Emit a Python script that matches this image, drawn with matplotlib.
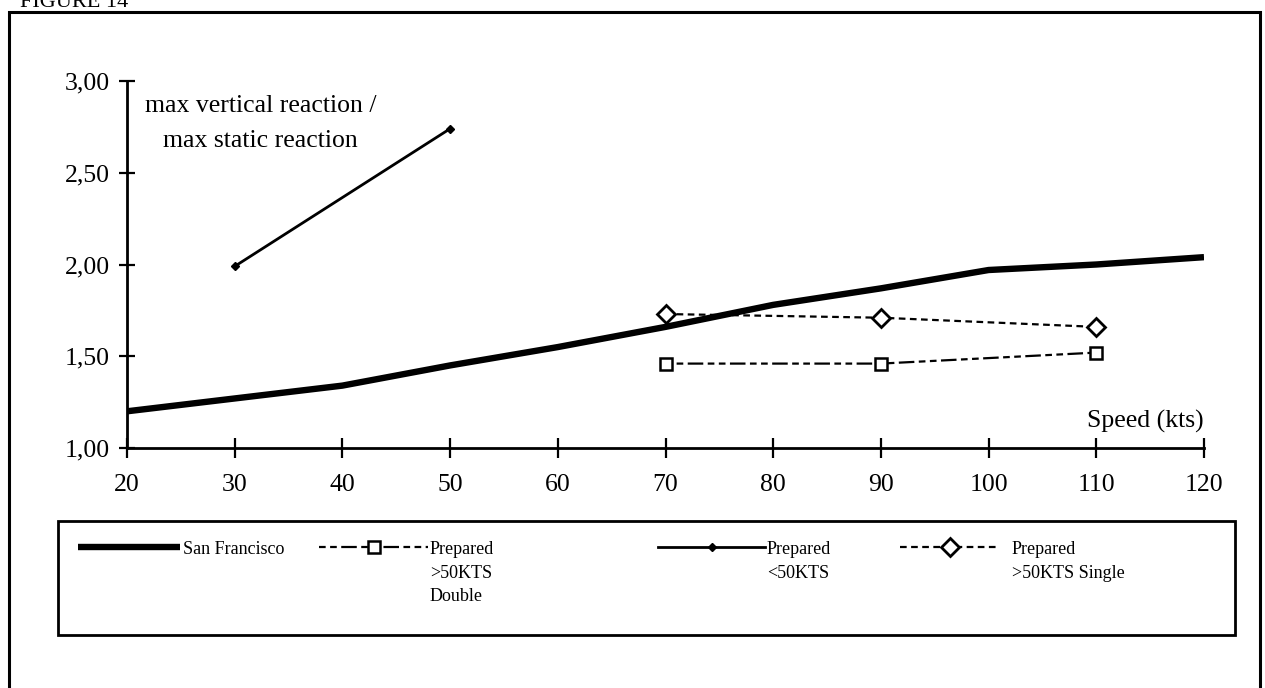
import matplotlib
matplotlib.use("Agg")
import matplotlib.pyplot as plt
from matplotlib.patches import Rectangle

W, H = 1265, 688
SERIF = "Liberation Serif"

speed = [20, 30, 40, 50, 60, 70, 80, 90, 100, 110, 120]
san_francisco = [1.20, 1.27, 1.34, 1.45, 1.55, 1.66, 1.78, 1.87, 1.97, 2.00, 2.04]

low_speed = [30, 50]
prepared_lt50 = [1.99, 2.74]

high_speed = [70, 90, 110]
prepared_gt50_double = [1.46, 1.46, 1.52]
prepared_gt50_single = [1.73, 1.71, 1.66]

x_ticks = [20, 30, 40, 50, 60, 70, 80, 90, 100, 110, 120]
y_ticks = [1.0, 1.5, 2.0, 2.5, 3.0]
y_tick_labels = ["1,00", "1,50", "2,00", "2,50", "3,00"]

labels = ["San Francisco", "Prepared\n>50KTS\nDouble", "Prepared\n<50KTS",
          "Prepared\n>50KTS Single"]

plt.rcParams.update({
    "font.family": SERIF,
    "font.size": 18.5,
    "axes.linewidth": 2.0,
})

fig = plt.figure(figsize=(W / 100, H / 100), dpi=100)
ax = fig.add_axes([127 / W, 1 - 448 / H, (1204 - 127) / W, (448 - 81) / H])

sf, = ax.plot(speed, san_francisco, color="black", lw=4.6,
              solid_capstyle="butt", zorder=3)
dbl, = ax.plot(high_speed, prepared_gt50_double, color="black", lw=1.6,
               dashes=(3, 2, 3, 2, 7, 2), marker="s", ms=9, mfc="white",
               mec="black", mew=1.8, zorder=4)
lt50, = ax.plot(low_speed, prepared_lt50, color="black", lw=2.0,
                marker="D", ms=4, mfc="black", mec="black", zorder=4)
sgl, = ax.plot(high_speed, prepared_gt50_single, color="black", lw=1.6,
               dashes=(3, 2), marker="D", ms=9.5, mfc="white",
               mec="black", mew=2.0, zorder=4)

ax.set_xlim(20, 120)
ax.set_ylim(1.0, 3.0)
ax.set_xticks(x_ticks)
ax.set_yticks(y_ticks)
ax.set_yticklabels(y_tick_labels)
for s in ("top", "right"):
    ax.spines[s].set_visible(False)
ax.tick_params(axis="x", direction="inout", length=14, width=1.6, pad=12,
               labelsize=18.5)
ax.tick_params(axis="y", direction="inout", length=11, width=1.6, pad=7,
               labelsize=18.5)
ax.patch.set_alpha(0)

ax.text(0.124, 0.962, "max vertical reaction /\nmax static reaction",
        transform=ax.transAxes, ha="center", va="top", fontsize=18.5,
        linespacing=1.75)
ax.text(1.0, 0.072, "Speed (kts)", transform=ax.transAxes, ha="right",
        va="center", fontsize=18.5)

# outer frame and caption (cut off at the top of the page)
fig.add_artist(Rectangle((9 / W, -0.1), (1260 - 9) / W, 1.1 - 12 / H,
                         transform=fig.transFigure, fill=False, lw=2.2,
                         ec="black"))
fig.text(20 / W, 1 - 7 / H, "FIGURE 14", ha="left", va="baseline",
         fontsize=16)

# legend box
fig.add_artist(Rectangle((58 / W, 1 - 635 / H), (1235 - 58) / W,
                         (635 - 521) / H, transform=fig.transFigure,
                         fill=False, lw=2.0, ec="black"))

handles = [sf, dbl, lt50, sgl]
starts = [78, 319, 658, 900]
hlen = [102, 109, 107, 100]
tpad = [3, 2, 2, 12]
for h, lab, x0, hl, tp in zip(handles, labels, starts, hlen, tpad):
    fs = 13
    px_per_em = fs * 100 / 72
    leg = fig.legend([h], [lab], loc="upper left",
                     bbox_to_anchor=(x0 / W, 1 - 541 / H),
                     frameon=False, fontsize=fs, borderpad=0,
                     borderaxespad=0, handlelength=hl / px_per_em,
                     handletextpad=tp / px_per_em, numpoints=1)
    for t in leg.get_texts():
        t.set_linespacing(1.5)
    # keep the key level with the first line of a multi-line label
    for col in leg._legend_handle_box.get_children():
        for item in col.get_children():
            item.align = "top"

fig.savefig("out.png", dpi=100)
